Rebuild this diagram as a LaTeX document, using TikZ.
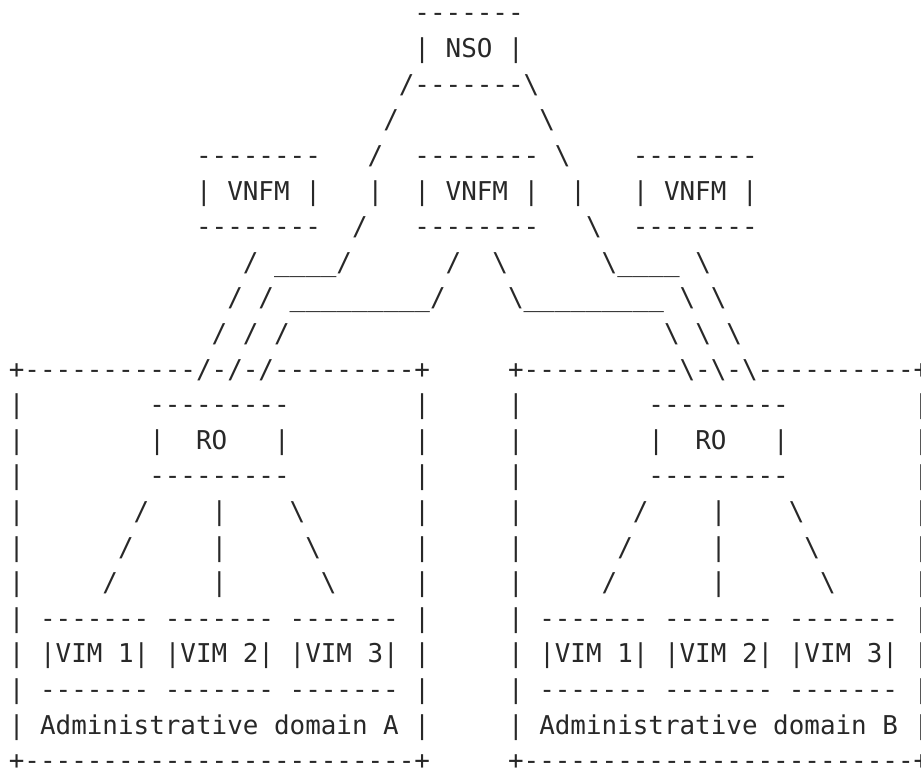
\documentclass[tikz,border=0pt]{standalone}
\usepackage{fontspec}
\newfontfamily\asciifont{DejaVu Sans Mono}
\definecolor{inkc}{RGB}{40,40,40}
\newcommand\gap[1]{\hspace*{\dimexpr 0.60205em*#1\relax}}
\newcommand\bs{\textbackslash}
\newcommand\us{\_}
\tikzset{
  asciiline/.style={anchor=base west, inner sep=0pt, outer sep=0pt, text=inkc,
    font=\asciifont\fontsize{25.91}{35.6}\selectfont}
}
\begin{document}
\begin{tikzpicture}[x=1pt,y=1pt]
\useasboundingbox (0,0) rectangle (921,-768);
\newcommand\row[2]{\node[asciiline] (l#1) at (8.9,{-(22+35.6*(#1-1))}) {#2};}
\row{1}{\gap{26}-------}
\row{2}{\gap{26}|\gap{1}NSO\gap{1}|}
\row{3}{\gap{25}/-------\bs}
\row{4}{\gap{24}/\gap{9}\bs}
\row{5}{\gap{12}--------\gap{3}/\gap{2}--------\gap{1}\bs\gap{4}--------}
\row{6}{\gap{12}|\gap{1}VNFM\gap{1}|\gap{3}|\gap{2}|\gap{1}VNFM\gap{1}|\gap{2}|\gap{3}|\gap{1}VNFM\gap{1}|}
\row{7}{\gap{12}--------\gap{2}/\gap{3}--------\gap{3}\bs\gap{2}--------}
\row{8}{\gap{15}/\gap{1}\us\us\us\us/\gap{6}/\gap{2}\bs\gap{6}\bs\us\us\us\us\gap{1}\bs}
\row{9}{\gap{14}/\gap{1}/\gap{1}\us\us\us\us\us\us\us\us\us/\gap{4}\bs\us\us\us\us\us\us\us\us\us\gap{1}\bs\gap{1}\bs}
\row{10}{\gap{13}/\gap{1}/\gap{1}/\gap{24}\bs\gap{1}\bs\gap{1}\bs}
\row{11}{+-----------/-/-/---------+\gap{5}+----------\bs-\bs-\bs----------+}
\row{12}{|\gap{8}---------\gap{8}|\gap{5}|\gap{8}---------\gap{8}|}
\row{13}{|\gap{8}|\gap{2}RO\gap{3}|\gap{8}|\gap{5}|\gap{8}|\gap{2}RO\gap{3}|\gap{8}|}
\row{14}{|\gap{8}---------\gap{8}|\gap{5}|\gap{8}---------\gap{8}|}
\row{15}{|\gap{7}/\gap{4}|\gap{4}\bs\gap{7}|\gap{5}|\gap{7}/\gap{4}|\gap{4}\bs\gap{7}|}
\row{16}{|\gap{6}/\gap{5}|\gap{5}\bs\gap{6}|\gap{5}|\gap{6}/\gap{5}|\gap{5}\bs\gap{6}|}
\row{17}{|\gap{5}/\gap{6}|\gap{6}\bs\gap{5}|\gap{5}|\gap{5}/\gap{6}|\gap{6}\bs\gap{5}|}
\row{18}{|\gap{1}-------\gap{1}-------\gap{1}-------\gap{1}|\gap{5}|\gap{1}-------\gap{1}-------\gap{1}-------\gap{1}|}
\row{19}{|\gap{1}|VIM\gap{1}1|\gap{1}|VIM\gap{1}2|\gap{1}|VIM\gap{1}3|\gap{1}|\gap{5}|\gap{1}|VIM\gap{1}1|\gap{1}|VIM\gap{1}2|\gap{1}|VIM\gap{1}3|\gap{1}|}
\row{20}{|\gap{1}-------\gap{1}-------\gap{1}-------\gap{1}|\gap{5}|\gap{1}-------\gap{1}-------\gap{1}-------\gap{1}|}
\row{21}{|\gap{1}Administrative\gap{1}domain\gap{1}A\gap{1}|\gap{5}|\gap{1}Administrative\gap{1}domain\gap{1}B\gap{1}|}
\row{22}{+-------------------------+\gap{5}+-------------------------+}
\end{tikzpicture}
\end{document}
